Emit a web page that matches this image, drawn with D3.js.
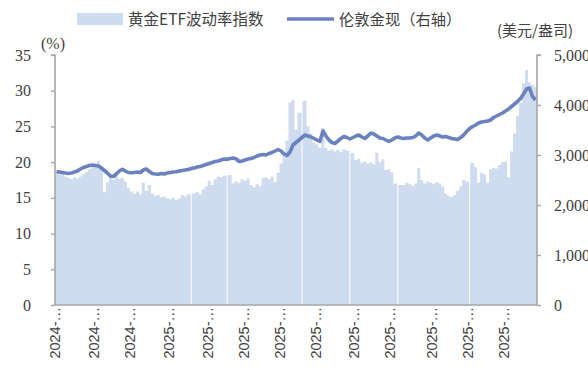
<!DOCTYPE html>
<html>
<head>
<meta charset="utf-8">
<script src="https://cdn.jsdelivr.net/npm/d3@7/dist/d3.min.js"></script>
<style>
  body { margin: 0; background: #fff; }
  svg { display: block; }
</style>
</head>
<body>
<svg id="chart" width="588" height="369"></svg>
<script>
// data (one point per ~2 trading days, Oct 2024 - Oct 2025)
var vol = [18.5, 18.3, 18.4, 18.0, 17.8, 17.6, 17.9, 17.7, 18.0, 18.3,
    18.6, 19.0, 19.3, 19.6, 20.2, 19.5, 15.8, 17.2, 17.9, 17.5,
    18.0, 17.6, 17.8, 17.3, 16.4, 15.9, 15.6, 15.9, 15.5, 17.1,
    16.0, 16.8, 15.6, 15.3, 15.4, 15.1, 15.2, 14.9, 14.8, 15.0,
    14.7, 14.9, 15.4, 15.2, 15.5, null, 15.6, 15.8, 15.5, 16.2,
    16.6, 17.4, 16.8, 17.6, 18.0, 17.9, 18.1, null, 18.2, 17.0,
    17.3, 17.1, 17.6, 17.4, 17.7, 16.8, 16.5, 16.9, 16.6, 17.8,
    17.9, 17.6, 18.0, 17.2, 18.5, 19.8, 20.9, 23.0, 28.4, 28.7,
    24.5, 26.9, null, 28.6, 25.0, 24.0, 22.7, 22.5, 22.0, 24.8,
    22.0, 21.6, 21.8, 21.5, 21.7, 21.4, 21.8, 21.6, null, 21.3,
    20.3, 20.5, 19.9, 20.1, 19.8, 20.0, 19.7, 21.3, 20.0, 20.4,
    18.9, 19.0, 18.6, 17.0, null, 16.8, 16.8, 17.1, 16.9, 16.7,
    17.0, 19.2, 17.5, 17.0, 17.3, 17.1, 16.9, 17.2, 17.0, 16.6,
    15.6, 15.3, 15.1, 15.4, 16.0, 16.6, 17.5, 17.3, null, 19.9,
    19.3, 17.1, 18.5, 18.3, 17.1, 19.0, 19.2, 19.1, 19.6, 20.0,
    20.1, 17.9, 21.5, 24.0, 26.5, 28.3, 31.0, 32.9, 31.2, 30.8,
    30.5];

var gold = [2666, 2660, 2650, 2640, 2633, 2640, 2660, 2680, 2720, 2750,
    2770, 2790, 2800, 2790, 2780, 2740, 2690, 2640, 2580, 2570,
    2620, 2680, 2715, 2680, 2650, 2645, 2650, 2660, 2650, 2700,
    2720, 2670, 2630, 2620, 2615, 2630, 2620, 2640, 2650, 2660,
    2665, 2680, 2690, 2700, 2710, 2730, 2740, 2760, 2770, 2790,
    2810, 2830, 2850, 2870, 2880, 2900, 2920, 2915, 2930, 2940,
    2920, 2870, 2880, 2900, 2920, 2930, 2950, 2980, 3000, 3010,
    3000, 3030, 3050, 3080, 3110, 3080, 3020, 2990, 3060, 3200,
    3250, 3300, 3350, 3400, 3380, 3360, 3330, 3300, 3270, 3480,
    3380, 3300, 3250, 3230, 3280, 3330, 3370, 3350, 3320, 3350,
    3380, 3400, 3360, 3330, 3380, 3440, 3420, 3380, 3340, 3330,
    3300, 3270, 3300, 3340, 3360, 3340, 3330, 3340, 3340, 3350,
    3380, 3440, 3400, 3340, 3300, 3340, 3380, 3400, 3380, 3360,
    3370, 3350, 3330, 3320, 3310, 3350, 3400, 3470, 3530, 3570,
    3600, 3640, 3660, 3670, 3680, 3700, 3750, 3780, 3810, 3840,
    3880, 3920, 3970, 4020, 4070, 4130, 4220, 4320, 4340, 4170,
    4100];

// month starts (index into the series) and their truncated labels
var tickIdx = [0, 13, 25, 38, 51, 63, 75, 87, 100, 112, 126, 138, 150];
var tickLabels = ["2024-…", "2024-…", "2024-…", "2025-…", "2025-…", "2025-…", "2025-…",
    "2025-…", "2025-…", "2025-…", "2025-…", "2025-…", "2025-…"];

var leftTicks = [0, 5, 10, 15, 20, 25, 30, 35];
var rightTicks = [0, 1000, 2000, 3000, 4000, 5000];

var margin = { top: 55, right: 51, bottom: 64, left: 55 },
    width = 588 - margin.left - margin.right,
    height = 369 - margin.top - margin.bottom;

var areaColor = "#cfdbef",
    lineColor = "#6a83c0",
    axisColor = "#a6a6a6",
    textColor = "#404040";

var svg = d3.select("#chart");
var g = svg.append("g").attr("transform", "translate(" + margin.left + "," + margin.top + ")");

var x = d3.scaleLinear().domain([0, vol.length]).range([0, width]);
var yL = d3.scaleLinear().domain([0, 35]).range([height, 0]);
var yR = d3.scaleLinear().domain([0, 5000]).range([height, 0]);

// volatility as a stepped area, broken where a day is missing
var steps = [];
vol.forEach(function (v, i) {
    var x0 = x(i), x1 = x(i + 1);
    if (v != null && vol[i + 1] === null) x1 += 1;
    if (v != null && vol[i - 1] === null) x0 -= 1;
    steps.push({ px: x0, v: v });
    steps.push({ px: x1, v: v });
});

var area = d3.area()
    .defined(function (d) { return d.v != null; })
    .x(function (d) { return d.px; })
    .y0(height)
    .y1(function (d) { return yL(d.v); });

g.append("path")
    .datum(steps)
    .attr("d", area)
    .attr("fill", areaColor);

// gold line
var line = d3.line()
    .x(function (d, i) { return x(i + 0.5); })
    .y(function (d) { return yR(d); });

g.append("path")
    .datum(gold)
    .attr("d", line)
    .attr("fill", "none")
    .attr("stroke", lineColor)
    .attr("stroke-width", 3.6)
    .attr("stroke-linejoin", "round");

// left axis
var leftAxis = d3.axisLeft(yL).tickValues(leftTicks).tickSize(4).tickPadding(20);
var la = g.append("g").call(leftAxis);
la.select(".domain").attr("stroke", axisColor).attr("stroke-width", 1.6).attr("d", "M0," + height + "V0H-4");
la.selectAll(".tick line").attr("stroke", axisColor).attr("stroke-width", 1.4);
la.selectAll(".tick text")
    .attr("fill", textColor)
    .style("font-family", "'Liberation Serif', serif")
    .style("font-size", "16px");

// right axis (labels run past the edge, as in the source)
var rightAxis = d3.axisRight(yR).tickValues(rightTicks).tickSize(4).tickPadding(13)
    .tickFormat(d3.format(","));
var ra = g.append("g").attr("transform", "translate(" + width + ",0)").call(rightAxis);
ra.select(".domain").attr("stroke", axisColor).attr("stroke-width", 1.6).attr("d", "M0," + height + "V0H4");
ra.selectAll(".tick line").attr("stroke", axisColor).attr("stroke-width", 1.4);
ra.selectAll(".tick text")
    .attr("fill", textColor)
    .style("font-family", "'Liberation Serif', serif")
    .style("font-size", "16px");

// bottom axis
g.append("line")
    .attr("x1", -1).attr("x2", width)
    .attr("y1", height).attr("y2", height)
    .attr("stroke", axisColor).attr("stroke-width", 1.6);

g.selectAll("text.xlab")
    .data(tickIdx)
    .enter()
    .append("text")
    .attr("class", "xlab")
    .attr("transform", function (d) { return "translate(" + x(d) + "," + (height + 2) + ") rotate(-90)"; })
    .attr("text-anchor", "end")
    .attr("dy", "0.35em")
    .attr("fill", textColor)
    .style("font-family", "'Liberation Sans', Arial, sans-serif")
    .style("font-size", "14.5px")
    .text(function (d, i) { return tickLabels[i]; });

// units
svg.append("text")
    .attr("x", 41).attr("y", 49)
    .attr("fill", textColor)
    .style("font-family", "'Liberation Serif', serif")
    .style("font-size", "16px")
    .text("(%)");

svg.append("text")
    .attr("x", 497).attr("y", 36)
    .attr("fill", textColor)
    .style("font-family", "'Noto Sans CJK SC', sans-serif")
    .style("font-size", "15px")
    .text("(美元/盎司)");

// legend
var legend = svg.append("g");
legend.append("rect")
    .attr("x", 77).attr("y", 13).attr("width", 46).attr("height", 12)
    .attr("fill", areaColor);
legend.append("text")
    .attr("x", 128).attr("y", 25)
    .attr("fill", textColor)
    .style("font-family", "'Noto Sans CJK SC', sans-serif")
    .style("font-size", "15.5px")
    .text("黄金ETF波动率指数");
legend.append("line")
    .attr("x1", 287).attr("x2", 334).attr("y1", 19).attr("y2", 19)
    .attr("stroke", lineColor).attr("stroke-width", 3.6);
legend.append("text")
    .attr("x", 339).attr("y", 25)
    .attr("fill", textColor)
    .style("font-family", "'Noto Sans CJK SC', sans-serif")
    .style("font-size", "15.3px")
    .text("伦敦金现（右轴）");
</script>
</body>
</html>
